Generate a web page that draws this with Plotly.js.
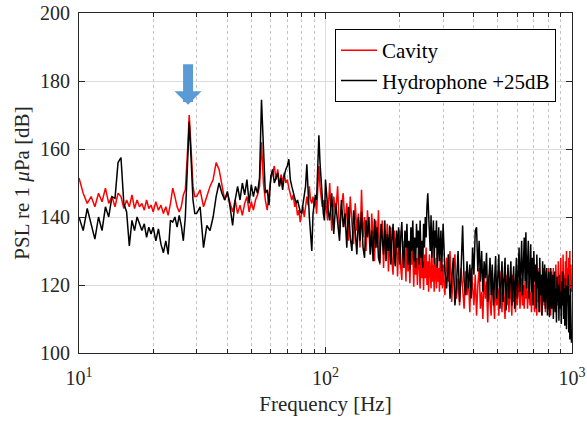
<!DOCTYPE html>
<html>
<head>
<meta charset="utf-8">
<script src="https://cdn.plot.ly/plotly-3.0.1.min.js"></script>
<style>html,body{margin:0;padding:0;background:#fff;}#chart{width:587px;height:421px;}</style>
</head>
<body>
<div id="chart"></div>
<script>
// Frequency bins [Hz], by band
var freqA = [10.0,10.4,10.8,11.2,11.6,12.0,12.4,12.8,13.2,13.6,14.0,14.4,14.8,15.2,15.6,16.0,16.4,16.8,17.2,17.6,18.0,18.4,18.8,19.2,19.6,
  20.0,20.5,21.0,21.5,22.0,22.5,23.0,23.5,24.0,24.5,25.0,25.5,26.0,26.5,27.0,27.5,28.0,28.5,29.0,29.5];
var freqB = [30,31,32,33,34,35,36,37,38,39,40,41,42,43,44,45,46,47,48,49,50,51,52,53,54,55,56,57,58,59,
  60,61,62,63,64,65,66,67,68,69,70,71,72,73,74,75,76,77,78,79,80,81,82,83,84,85,86,87,88,89,90,91,92,93,94,95,96,97,98,99];
var freqC = [100,102,104,106,108,110,112,114,116,118,
  120,122,124,126,128,130,132,134,136,138,
  140,142,144,146,148,150,152,154,156,158,
  160,162,164,166,168,170,172,174,176,178,
  180,182,184,186,188,190,192,194,196,198,
  200,202,204,206,208,210,212,214,216,218,
  220,222,224,226,228,230,232,234,236,238,
  240,242,244,246,248,250,252,254,256,258,
  260,262,264,266,268,270,272,274,276,278,
  280,282,284,286,288,290,292,294,296,298];
var freqD = [300,305,310,315,320,325,330,335,340,345,
  350,355,360,365,370,375,380,385,390,395,
  400,405,410,415,420,425,430,435,440,445,
  450,455,460,465,470,475,480,485,490,495,
  500,505,510,515,520,525,530,535,540,545,
  550,555,560,565,570,575,580,585,590,595,
  600,605,610,615,620,625,630,635,640,645,
  650,655,660,665,670,675,680,685,690,695,
  700,705,710,715,720,725,730,735,740,745,
  750,755,760,765,770,775,780,785,790,795,
  800,805,810,815,820,825,830,835,840,845,
  850,855,860,865,870,875,880,885,890,895,
  900,905,910,915,920,925,930,935,940,945,
  950,955,960,965,970,975,980,985,990,995];

// Cavity PSL [dB]
var cavityA = [151.5,147,144,146,143,147,144.5,148.5,144,146,143,147,146,142.5,145,143,146.5,142.5,145,143,144,142,145,142.5,143.5,
  141.5,144.5,142,143.5,141,143,140.5,144,148.5,146,143,141.5,143,146.5,148,158,170,160,149,146];
var cavityB = [146,148,143,146,149,151,156,154,149,145,147,144,141.5,145,141,143.5,140.5,144,146,141.5,144.5,142,145,146.5,149,162,150,145,142,147,
  151,153,155,151,154,149,152.5,150,153,150,151,148.5,147,145,146.5,143,144,140.5,142,138.5,141,143,140,144,146,143.5,149,145,144,146,143,145.5,141,148,155,149,146,143,145,141];
var cavityC = [145,139,150,136,146,141,149,135,143,147,
  137,144,133,146,138,132,144,136,141,131,
  148,134,140,130,142,135,129,141,133,127,
  139,131,142,126,134,139,125,136,129,138,
  124,133,137,127,123,136,129,134,122.5,131,
  136,125,121.5,133,127,131,121,134,124,129,
  120.5,132,126,130,119.5,131,123,128,120,132,
  124,119,130,122,127,118.5,129,122,131,120,
  127,118,129,123,119,130,121,126,118,128,
  122,119,129.5,121,125,118,128,120,126,119];
var cavityD = [126,117,128,121,130,115,124,129,116,122,
  114,125,119,113,124,117,122,112,125,118,
  114,123,111,120,125,113,118,110,124,116,
  121,109,123,115,111,124,117,110,122,114,
  119,111,124,116,112,122,117,110,123,114,
  119,112,122,116,111,123,115,120,112,122,
  114,119,121.5,113,118,122,114,120,113,121,
  116,122,113,119,121,114,118,112,123,116,
  120,112,124.5,117,111,122,115,125,112,119,
  123,111,121,125,114,118,112,124,117,122,
  113,125,116,120,111,124,118,113,125,116,
  121,113,126,118,122,114,127,117,123,115,
  128,119,124,116,129,118,123,115,127,120,
  130,117,125,114,128,119,130,116,126,118];

// Hydrophone PSL +25 dB [dB]
var hydroA = [140,136,142.5,138,133.5,140,136,143,140,146,145.5,156,157.5,144,141.5,131.5,139,136,140,138,136,138,134,137,135,
  137,133,136.5,132,129.5,133,129,139,138.5,140,137,140.5,137.5,133,140,152,168,157,145,141];
var hydroB = [141,143,131,137.5,136,140,146,150,147,145,147.5,143,137.5,145,149,145,150,146.5,151,144,149.5,146,149,147,151.5,174.5,161,147,148,143.5,
  152,154,150,151.5,153,149,151.5,148,152,154,155,157,151,149,147,146,144,145,143,141.5,141,144,146.5,149,155.5,146,140,135,130,141,144,146.5,145,153,164,156,150,146,141,139];
var hydroC = [151,143,139,147,135,144,138,133,145,137,
  141,131,143,134,130,142,136,129,140,133,
  141.5,131,128,139,134,140,129,136,127,139.5,
  131,137,128,126.5,138,133,129,139,127,135,
  130,137.5,126,133,138,128,125.5,136,131,137,
  126,134,138.5,129,125,136,131,138,126,133,
  124.5,137,130,139,127,134,125,138,131,136,
  126,139,128,133,125,138,131,140,134,143,
  147,141,136,130,140.5,128,134,139,126,136,
  131,139,125,133,137,127,131,136,124,134];
var hydroD = [138,124,119,129,116,122,128,114,120,130,
  115,125,137.5,121,117,127,119,126,116,131,
  123,136,137,124,133,121,130,118,127,122,
  129.5,115,124,128,117,126,114,122,128.5,116,
  125,129,113,121,127,115,124,128,112.5,120,
  126,116,123,127,114,121,125.5,113,122,128,
  116,124,131,118,127,133,117,126,134,121,
  135.5,119,129,133,116,125,132,118,128,114,
  130,121,126,113,129,119,124,112,128,117,
  123,111,127,119,115,126,113,121,125,111,
  118,124,110.5,120,125,113,118,123,110,117,
  124,112,119,109,122.5,115,120,109.5,123,113,
  118,108.5,121,114,124,110,119,108,122,113,
  107,120,115,123,106,117,104,119,110,103];

// Axis ticks
var xMajor = [10, 100, 1000];
var xMajorText = ['10<sup>1</sup>', '10<sup>2</sup>', '10<sup>3</sup>'];
var xMinor = [20,30,40,50,60,70,80,90,200,300,400,500,600,700,800,900];
var yTicks = [100,120,140,160,180,200];

var freq = freqA.concat(freqB, freqC, freqD);
var cavity = cavityA.concat(cavityB, cavityC, cavityD);
var hydro = hydroA.concat(hydroB, hydroC, hydroD);

var FONT = '"Liberation Serif", "Times New Roman", Times, "DejaVu Serif", serif';
var AX = '#262626';

var traces = [
  {x: freq, y: cavity, type: 'scatter', mode: 'lines', name: 'Cavity',
   line: {color: '#ff0000', width: 1.5}},
  {x: freq, y: hydro, type: 'scatter', mode: 'lines', name: 'Hydrophone +25dB',
   line: {color: '#000000', width: 1.5}}
];

var layout = {
  width: 587, height: 421,
  margin: {l: 79, r: 15, t: 13, b: 68},
  paper_bgcolor: '#ffffff', plot_bgcolor: '#ffffff',
  showlegend: true,
  font: {family: FONT, color: AX, size: 20},
  xaxis: {
    type: 'log', range: [1, 3],
    tickmode: 'array', tickvals: xMajor, ticktext: xMajorText,
    ticks: 'inside', ticklen: 6, tickcolor: AX, tickwidth: 1,
    showline: true, linecolor: AX, linewidth: 1, mirror: 'ticks',
    showgrid: true, gridcolor: '#dcdcdc', gridwidth: 1, zeroline: false,
    tickfont: {family: FONT, size: 20, color: AX},
    ticklabelstandoff: 7,
    minor: {tickmode: 'array', tickvals: xMinor, ticks: 'inside', ticklen: 4, tickcolor: AX,
            showgrid: true, gridcolor: '#c4c4c4', griddash: 'dot', gridwidth: 1},
    title: {text: 'Frequency [Hz]', font: {family: FONT, size: 21, color: AX}, standoff: 8}
  },
  yaxis: {
    range: [100, 200],
    tickmode: 'array', tickvals: yTicks,
    ticks: 'inside', ticklen: 6, tickcolor: AX, tickwidth: 1,
    showline: true, linecolor: AX, linewidth: 1, mirror: 'ticks',
    showgrid: true, gridcolor: '#dcdcdc', gridwidth: 1, zeroline: false,
    tickfont: {family: FONT, size: 20, color: AX},
    ticklabelstandoff: 4,
    title: {text: 'PSL re 1 <i>μ</i>Pa [dB]', font: {family: FONT, size: 21, color: AX}, standoff: 4}
  },
  legend: {
    x: 0.9675, xanchor: 'right', y: 0.953, yanchor: 'top',
    bgcolor: '#ffffff', bordercolor: '#000000', borderwidth: 1,
    font: {family: FONT, size: 21, color: '#000000'},
    itemwidth: 36,
    tracegroupgap: 0
  },
  annotations: [{
    x: Math.log10(27.7), y: 173, xref: 'x', yref: 'y',
    showarrow: true, text: '', ax: 0, ay: -42,
    arrowcolor: '#5b9bd5', arrowwidth: 10, arrowhead: 1, arrowsize: 0.45
  }]
};

Plotly.newPlot('chart', traces, layout, {displayModeBar: false, staticPlot: true});
</script>
</body>
</html>
